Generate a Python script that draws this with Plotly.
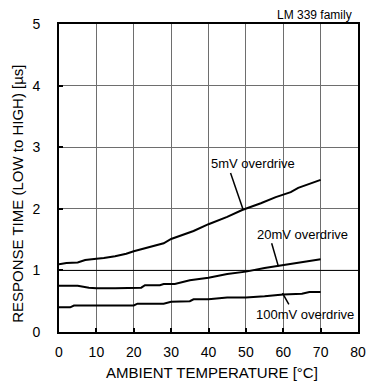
import plotly.graph_objects as go

# ---- data ----
temp_5mv = [0, 2, 5, 7, 10, 12, 15, 17, 18, 20, 22, 24, 26, 28, 30, 33, 36, 40, 45, 49, 50, 54, 58, 60, 62, 64, 66, 70]
resp_5mv = [1.10, 1.12, 1.13, 1.17, 1.19, 1.20, 1.23, 1.25, 1.27, 1.31, 1.34, 1.38, 1.41, 1.44, 1.51, 1.57, 1.64,
            1.75, 1.87, 1.98, 2.00, 2.09, 2.19, 2.23, 2.27, 2.34, 2.38, 2.47]

temp_20mv = [0, 5, 8, 10, 15, 20, 22, 23, 27, 28, 31, 35, 40, 45, 50, 55, 60, 65, 70]
resp_20mv = [0.75, 0.75, 0.72, 0.71, 0.71, 0.72, 0.72, 0.76, 0.76, 0.78, 0.78, 0.84, 0.88, 0.94, 0.98, 1.04,
             1.09, 1.13, 1.18]

temp_100mv = [0, 3, 4, 10, 20, 21, 28, 30, 35, 36, 40, 45, 50, 55, 60, 65, 67, 70]
resp_100mv = [0.40, 0.40, 0.43, 0.43, 0.43, 0.46, 0.46, 0.49, 0.50, 0.53, 0.53, 0.56, 0.56, 0.58, 0.61,
              0.62, 0.65, 0.65]

x_ticks = [0, 10, 20, 30, 40, 50, 60, 70, 80]
y_ticks = [0, 1, 2, 3, 4, 5]

labels = ["5mV overdrive", "20mV overdrive", "100mV overdrive"]
label_x = [40.2, 52.5, 52.3]
label_y = [2.73, 1.59, 0.29]
# leader lines: start near label, end on the curve
pointer_x0 = [45.9, 56.9, 59.8]
pointer_y0 = [2.58, 1.44, 0.63]
pointer_x1 = [49.3, 58.7, 61.5]
pointer_y1 = [1.98, 1.065, 0.45]

FONT = "Liberation Sans, Arial, sans-serif"

fig = go.Figure()
# reference line at 1 us (drawn in black over the grey grid)
fig.add_trace(go.Scatter(x=[x_ticks[0], x_ticks[-1]], y=[y_ticks[1], y_ticks[1]], mode="lines",
                         line=dict(color="black", width=1), showlegend=False, hoverinfo="skip"))
for xs, ys in [(temp_5mv, resp_5mv), (temp_20mv, resp_20mv), (temp_100mv, resp_100mv)]:
    fig.add_trace(go.Scatter(x=xs, y=ys, mode="lines",
                             line=dict(color="black", width=2),
                             showlegend=False, hoverinfo="skip"))
for x0, y0, x1, y1 in zip(pointer_x0, pointer_y0, pointer_x1, pointer_y1):
    fig.add_trace(go.Scatter(x=[x0, x1], y=[y0, y1], mode="lines",
                             line=dict(color="black", width=1.5),
                             showlegend=False, hoverinfo="skip"))

annotations = []
for txt, lx, ly in zip(labels, label_x, label_y):
    annotations.append(dict(x=lx, y=ly, xref="x", yref="y", text=txt, showarrow=False,
                            xanchor="left", yanchor="middle",
                            font=dict(family=FONT, size=13, color="black")))
annotations.append(dict(x=0.987, y=1.029, xref="paper", yref="paper", text="LM 339 family",
                        showarrow=False, xanchor="right", yanchor="middle",
                        font=dict(family=FONT, size=12, color="black")))
annotations.append(dict(x=0.511, y=-0.130, xref="paper", yref="paper", text="AMBIENT TEMPERATURE [°C]",
                        showarrow=False, xanchor="center", yanchor="middle",
                        font=dict(family=FONT, size=15, color="black")))
annotations.append(dict(x=-0.141, y=0.448, xref="paper", yref="paper",
                        text="RESPONSE TIME (LOW to HIGH) [µs]", textangle=-90,
                        showarrow=False, xanchor="center", yanchor="middle",
                        font=dict(family=FONT, size=15, color="black")))

fig.update_layout(
    width=374, height=383,
    margin=dict(l=59, r=8, t=24, b=51, pad=0),
    paper_bgcolor="white", plot_bgcolor="white",
    annotations=annotations,
    font=dict(family=FONT, size=14, color="black"),
)
fig.update_xaxes(range=[0, 80], tickvals=x_ticks, ticktext=[str(v) for v in x_ticks],
                 showgrid=True, gridcolor="#6e6e6e", gridwidth=1,
                 showline=True, linecolor="black", linewidth=2, mirror=True,
                 ticks="inside", ticklen=4, tickwidth=1.5, tickcolor="black",
                 ticklabelstandoff=6, zeroline=False, fixedrange=True)
fig.update_yaxes(range=[0, 5], tickvals=y_ticks, ticktext=[str(v) for v in y_ticks],
                 showgrid=True, gridcolor="#6e6e6e", gridwidth=1,
                 showline=True, linecolor="black", linewidth=2, mirror=True,
                 ticks="inside", ticklen=4, tickwidth=1.5, tickcolor="black",
                 ticklabelstandoff=14, zeroline=False, fixedrange=True)

fig.write_html("out.html", config={"displayModeBar": False},
               post_script="document.body.style.margin='0';document.body.style.overflow='hidden';")
